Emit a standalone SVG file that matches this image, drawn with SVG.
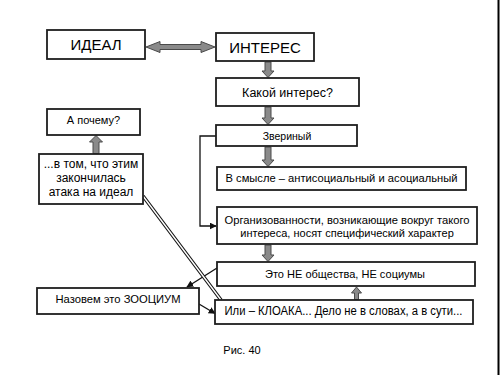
<svg xmlns="http://www.w3.org/2000/svg" width="500" height="375" viewBox="0 0 500 375">
<defs>
<style>
.box{fill:#fff;stroke:#1e1e1e;stroke-width:1.8}
.t{font-family:"Liberation Sans",Arial,sans-serif;fill:#000;text-anchor:middle}
.garrow{fill:#8a8a8a;stroke:#4a4a4a;stroke-width:1}
.ln{fill:none;stroke:#111;stroke-width:1.3}
</style>
<marker id="ah" viewBox="0 0 10 10" refX="9" refY="5" markerWidth="7" markerHeight="7" orient="auto" markerUnits="userSpaceOnUse">
<path d="M0,0 L10,5 L0,10 z" fill="#111"/>
</marker>
</defs>
<rect width="500" height="375" fill="#fff"/>
<line x1="498.5" y1="0" x2="498.5" y2="375" stroke="#000" stroke-width="2"/>

<g id="connectors">
<path class="garrow" d="M146,47 L160,41.5 L160,44.5 L201,44.5 L201,41.5 L215,47 L201,52.5 L201,49.5 L160,49.5 L160,52.5 z"/>
<path class="garrow" d="M265,62 H271 V71 H274 L268,77.5 L262,71 H265 z"/>
<path class="garrow" d="M265,107 H271 V118 H274 L268,124.5 L262,118 H265 z"/>
<path class="garrow" d="M265,147 H271 V160 H274 L268,166.5 L262,160 H265 z"/>
<path class="garrow" d="M265,245 H271 V255 H274 L268,261.5 L262,255 H265 z"/>
<path class="garrow" d="M354.5,299.5 V293 H351.5 L356.5,287 L361.5,293 H358.5 V299.5 z"/>
<path class="garrow" d="M93,153.5 V142 H89.5 L96,135.5 L102.5,142 H99 V153.5 z"/>
<path class="ln" d="M216,136 H200 V226 H216" marker-end="url(#ah)"/>
<line class="ln" x1="217" y1="268" x2="187" y2="287" marker-end="url(#ah)" stroke-width="1.6"/>
<line class="ln" x1="199" y1="304" x2="215" y2="313.5" marker-end="url(#ah)" stroke-width="1.6"/>
<line x1="143" y1="196" x2="221" y2="300" stroke="#111" stroke-width="3.6"/>
<line x1="143" y1="196" x2="221" y2="300" stroke="#fff" stroke-width="1.4"/>
</g>

<g id="n-ideal"><rect class="box" x="47" y="30" width="98" height="29"/><text class="t" x="96" y="50" font-size="15">ИДЕАЛ</text></g>
<g id="n-interes"><rect class="box" x="216" y="33" width="98" height="28"/><text class="t" x="265" y="52.5" font-size="15">ИНТЕРЕС</text></g>
<g id="n-kakoy"><rect class="box" x="216" y="78" width="143" height="28"/><text class="t" x="287.5" y="96.5" font-size="12.5">Какой интерес?</text></g>
<g id="n-zver"><rect class="box" x="216" y="125" width="141" height="21"/><text class="t" x="287" y="139.5" font-size="10.5">Звериный</text></g>
<g id="n-smysl"><rect class="box" x="217" y="167" width="249" height="23"/><text class="t" x="341.5" y="182" font-size="11" textLength="232" lengthAdjust="spacingAndGlyphs">В смысле – антисоциальный и асоциальный</text></g>
<g id="n-org"><rect class="box" x="217" y="207" width="260" height="37"/><text class="t" x="347" y="223.5" font-size="11" textLength="245" lengthAdjust="spacingAndGlyphs">Организованности, возникающие вокруг такого</text><text class="t" x="347" y="237" font-size="11">интереса, носят специфический характер</text></g>
<g id="n-eto"><rect class="box" x="217" y="262" width="258" height="24"/><text class="t" x="345" y="277.5" font-size="11" textLength="160" lengthAdjust="spacingAndGlyphs">Это НЕ общества, НЕ социумы</text></g>
<g id="n-kloaka"><rect class="box" x="215" y="300" width="258" height="24"/><text class="t" x="343.5" y="315" font-size="12" textLength="238" lengthAdjust="spacingAndGlyphs">Или – КЛОАКА...  Дело не в словах, а в сути...</text></g>
<g id="n-nazovem"><rect class="box" x="37" y="288" width="162" height="26"/><text class="t" x="118" y="302.5" font-size="11" textLength="125" lengthAdjust="spacingAndGlyphs">Назовем это ЗООЦИУМ</text></g>
<g id="n-pochemu"><rect class="box" x="47" y="109" width="93" height="26"/><text class="t" x="93.5" y="124" font-size="11">А почему?</text></g>
<g id="n-vtom"><rect class="box" x="39" y="154" width="104" height="50"/><text class="t" x="91" y="168" font-size="12">...в том, что этим</text><text class="t" x="91" y="182" font-size="12">закончилась</text><text class="t" x="91" y="195.5" font-size="12">атака на идеал</text></g>
<text class="t" x="242" y="354" font-size="11">Рис. 40</text>
</svg>
